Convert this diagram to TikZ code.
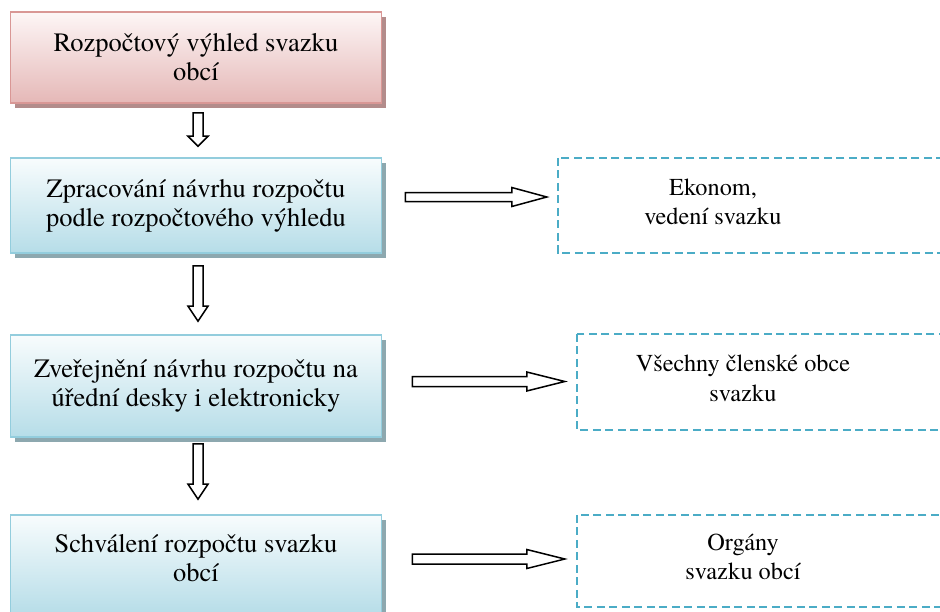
\documentclass[tikz,border=0pt]{standalone}
\usepackage{fontspec}
\IfFontExistsTF{texgyretermes-regular.otf}
  {\setmainfont{texgyretermes}[Extension=.otf, UprightFont=*-regular]}
  {\setmainfont{Liberation Serif}}
\usetikzlibrary{shapes,arrows,positioning,calc,shadows}

\definecolor{pinkline}{HTML}{D99795}
\definecolor{pinktop}{HTML}{FDF6F6}
\definecolor{pinkbot}{HTML}{E5B8B7}
\definecolor{pinkshade}{HTML}{B38C8B}
\definecolor{aqualine}{HTML}{93CDDD}
\definecolor{aquatop}{HTML}{F8FCFD}
\definecolor{aquabot}{HTML}{B6DDE8}
\definecolor{aquashade}{HTML}{8DA8AF}
\definecolor{dashblue}{HTML}{4BACC6}

% hollow block arrow: from, to, half shaft, half head, head length
\newcommand{\blockarrow}[5]{%
  \coordinate (hb) at ($(#2)!#5!(#1)$);
  \draw[arrowline] ($(#1)!#3!90:(#2)$) -- ($(hb)!#3!-90:(#1)$) -- ($(hb)!#4!-90:(#1)$) -- (#2)
    -- ($(hb)!#4!90:(#1)$) -- ($(hb)!#3!90:(#1)$) -- ($(#1)!#3!-90:(#2)$) -- cycle;}

\begin{document}
\begin{tikzpicture}[x=1pt, y=-1pt]
  \tikzset{stage/.style = {draw=#1line, line width=1.6pt, minimum width=371pt, align=center,
      font=\fontsize{26.5}{29}\selectfont, top color=#1top, bottom color=#1bot,
      drop shadow={shadow xshift=4pt, shadow yshift=-5pt, fill=#1shade, opacity=1}}}
  \tikzset{party/.style = {align=center, text depth=8pt, font=\fontsize{24.3}{29.5}\selectfont}}
  \tikzset{dashframe/.style = {draw=dashblue, line width=2pt, dash pattern=on 8pt off 4.5pt}}
  \tikzset{arrowline/.style = {draw=black, line width=1.5pt, fill=white, line join=miter}}

  \useasboundingbox (0,0) rectangle (940,611);
  \clip (0,0) rectangle (940,611);

  % steps
  \node[stage=pink, minimum height=91pt] (plan) at (196,57.5) {Rozpočtový výhled svazku\\obcí};
  \node[stage=aqua, minimum height=95pt] (draft) at (196,205.5) {Zpracování návrhu rozpočtu\\podle rozpočtového výhledu};
  \node[stage=aqua, minimum height=102pt] (publish) at (196,386) {Zveřejnění návrhu rozpočtu na\\úřední desky i elektronicky};
  \node[stage=aqua, minimum height=100pt, text depth=14pt] (approve) at (196,565) {Schválení rozpočtu svazku\\obcí};

  % who does it
  \node[party, minimum width=310pt, minimum height=95pt] (econ) at (713,205.5) {Ekonom,\\vedení svazku};
  \node[party, minimum width=332pt, minimum height=96pt] (members) at (743,382) {Všechny členské obce\\svazku};
  \node[party, minimum width=332pt, minimum height=92pt] (organs) at (743,561) {Orgány\\svazku obcí};
  \draw[dashframe] (econ.north west) rectangle ($(econ.south east)+(150,0)$);
  \draw[dashframe] (members.north west) rectangle ($(members.south east)+(150,0)$);
  \draw[dashframe] (organs.north west) rectangle ($(organs.south east)+(150,0)$);

  % arrows
  \coordinate (d1a) at ($(plan.south)+(2,9)$);
  \coordinate (d1b) at ($(draft.north)+(2,-11)$);
  \coordinate (d2a) at ($(draft.south)+(2,12)$);
  \coordinate (d2b) at ($(publish.north)+(2,-13)$);
  \coordinate (d3a) at ($(publish.south)+(2,6)$);
  \coordinate (d3b) at ($(approve.north)+(2,-15)$);
  \coordinate (h1a) at ($(draft.east)+(23,-8.5)$);
  \coordinate (h1b) at ($(econ.west)+(-11,-8.5)$);
  \coordinate (h2a) at ($(publish.east)+(30,-4.5)$);
  \coordinate (h2b) at ($(members.west)+(-12,-0.5)$);
  \coordinate (h3a) at ($(approve.east)+(30,-6)$);
  \coordinate (h3b) at ($(organs.west)+(-12,-2)$);

  \blockarrow{d1a}{d1b}{5pt}{10pt}{10pt}
  \blockarrow{d2a}{d2b}{5pt}{10pt}{15pt}
  \blockarrow{d3a}{d3b}{5pt}{10pt}{15pt}
  \blockarrow{h1a}{h1b}{4.5pt}{9.5pt}{35pt}
  \blockarrow{h2a}{h2b}{5pt}{9.5pt}{38pt}
  \blockarrow{h3a}{h3b}{5pt}{9.5pt}{38pt}
\end{tikzpicture}
\end{document}
